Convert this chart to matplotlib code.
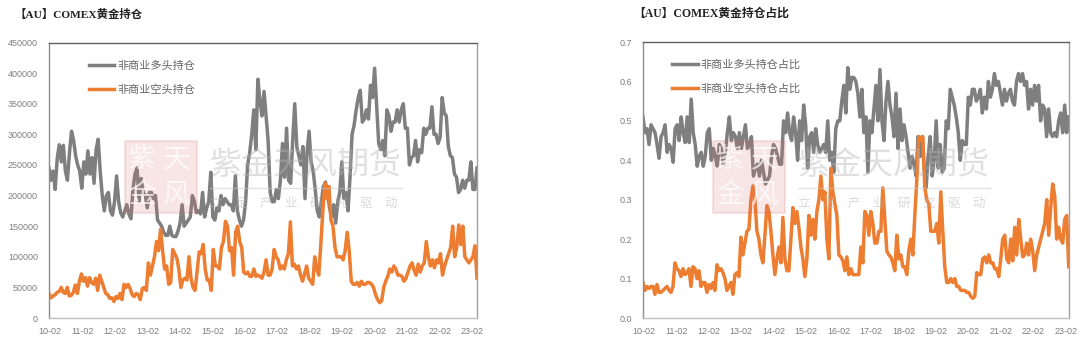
#!/usr/bin/env python3
"""COMEX gold positions: open interest and share of open interest, 2010-2023."""

import numpy as np
import matplotlib
matplotlib.use("Agg")
import matplotlib.pyplot as plt
from matplotlib.patches import Rectangle

plt.rcParams['font.family'] = ['Liberation Sans', 'Noto Sans CJK SC']

W, H = 1080, 353
GRAY = '#7f7f7f'
ORANGE = '#ed7d31'

year_labels = ['10-02', '11-02', '12-02', '13-02', '14-02', '15-02', '16-02',
               '17-02', '18-02', '19-02', '20-02', '21-02', '22-02', '23-02']

# Left chart, thousand contracts, about 16 readings per year
long_oi = [
    245, 225, 240, 210, 260, 283, 255, 282, 240, 225, 270, 305, 290, 265, 250, 240,
    212, 255, 235, 273, 235, 262, 220, 275, 292, 240, 200, 175, 200, 205, 175, 168,
    190, 232, 190, 172, 165, 175, 185, 170, 162, 210, 235, 245, 190, 228, 205, 200,
    180, 205, 205, 195, 200, 160, 155, 150, 140, 135, 135, 150, 135, 133, 133, 142,
    155, 185, 150, 155, 160, 165, 200, 190, 172, 175, 170, 205, 165, 180, 190, 238,
    165, 160, 180, 175, 200, 185, 195, 190, 185, 185, 175, 232, 175, 160, 150, 160,
    190, 250, 270, 300, 340, 275, 390, 355, 330, 370, 330, 290, 205, 190, 190, 210,
    195, 225, 285, 230, 310, 225, 220, 290, 350, 280, 265, 250, 280, 195, 270, 305,
    255, 240, 210, 175, 165, 190, 215, 222, 205, 180, 165, 185, 155, 190, 205, 255,
    195, 205, 175, 230, 300, 315, 340, 360, 372, 320, 325, 340, 325, 380, 360, 408,
    345, 285, 275, 290, 265, 340, 330, 305, 320, 320, 340, 320, 340, 350, 310, 310,
    250, 262, 265, 290, 255, 275, 270, 310, 300, 310, 310, 345, 300, 300, 285, 295,
    360, 335, 330, 280, 265, 262, 235, 230, 205, 210, 225, 212, 225, 225, 255, 210,
    210, 245,
]
short_oi = [
    40, 33, 36, 38, 42, 43, 50, 42, 40, 50, 36, 37, 42, 54, 40, 60,
    72, 60, 66, 52, 66, 58, 55, 65, 45, 70, 60, 50, 40, 38, 32, 33,
    27, 35, 32, 40, 30, 55, 50, 55, 48, 38, 35, 40, 38, 30, 48, 50,
    45, 90, 70, 85, 100, 125, 110, 145, 110, 80, 85, 55, 58, 112, 105, 98,
    80, 50, 62, 65, 62, 100, 65, 50, 45, 75, 108, 105, 120, 80, 62, 62,
    45, 112, 85, 85, 80, 115, 125, 158, 150, 110, 115, 70, 140, 150, 125, 115,
    75, 72, 75, 68, 68, 80, 68, 70, 68, 65, 75, 95, 70, 70, 80, 112,
    100, 95, 80, 85, 80, 95, 105, 157, 85, 88, 80, 85, 70, 60, 72, 85,
    65, 60, 55, 100, 80, 70, 120, 175, 220, 195, 215, 160, 150, 115, 100, 100,
    100, 95, 110, 140, 110, 60, 55, 55, 58, 52, 60, 55, 55, 58, 58, 55,
    50, 38, 30, 25, 28, 50, 60, 68, 80, 75, 85, 80, 70, 70, 68, 60,
    65, 75, 85, 90, 78, 70, 88, 75, 85, 90, 125, 100, 85, 95, 82, 95,
    90, 105, 70, 85, 95, 105, 115, 150, 100, 115, 152, 120, 150, 100, 95, 90,
    95, 100, 118, 65,
]

# Right chart, share of open interest
long_pct = [
    .51, .47, .48, .44, .49, .48, .47, .44, .405, .46, .47, .49, .42, .44, .43, .395,
    .48, .49, .45, .51, .47, .445, .51, .445, .555, .47, .44, .385, .41, .42, .385, .41,
    .47, .48, .40, .43, .41, .385, .44, .43, .39, .42, .47, .51, .45, .47, .46, .43,
    .47, .43, .46, .49, .43, .44, .46, .36, .38, .39, .36, .40, .37, .34, .35, .36,
    .41, .44, .43, .41, .39, .39, .50, .47, .52, .47, .45, .51, .47, .40, .50, .45,
    .54, .49, .38, .46, .47, .42, .48, .44, .42, .43, .44, .42, .50, .40, .42, .37,
    .48, .50, .50, .55, .59, .52, .635, .58, .61, .61, .60, .57, .51, .58, .47, .51,
    .37, .50, .47, .53, .59, .50, .63, .50, .45, .55, .60, .54, .51, .46, .57, .43,
    .53, .45, .49, .46, .42, .38, .41, .39, .36, .46, .41, .46, .38, .33, .41, .46,
    .36, .40, .50, .38, .44, .37, .38, .50, .48, .58, .56, .54, .51, .47, .40, .45,
    .44, .44, .56, .54, .58, .58, .55, .56, .58, .52, .56, .53, .60, .56, .58, .62,
    .59, .60, .57, .54, .58, .55, .57, .58, .55, .54, .60, .62, .60, .62, .59, .60,
    .53, .58, .54, .59, .55, .59, .50, .54, .53, .46, .53, .47, .46, .47, .46, .50,
    .52, .47, .54, .47, .51,
]
short_pct = [
    .09, .07, .08, .075, .08, .08, .06, .085, .065, .065, .07, .075, .08, .07, .065, .08,
    .14, .125, .12, .105, .125, .11, .115, .125, .08, .13, .125, .10, .12, .08, .09, .09,
    .065, .085, .075, .09, .07, .135, .12, .125, .115, .10, .07, .08, .09, .06, .11, .115,
    .105, .205, .16, .19, .22, .225, .30, .335, .30, .22, .20, .16, .14, .21, .285, .27,
    .22, .16, .11, .15, .18, .14, .255, .15, .12, .12, .20, .28, .24, .27, .23, .18,
    .15, .105, .15, .26, .21, .25, .20, .27, .30, .36, .30, .32, .20, .15, .38, .32,
    .29, .26, .16, .155, .145, .12, .155, .11, .125, .11, .11, .11, .11, .18, .14, .27,
    .26, .21, .27, .24, .19, .19, .22, .22, .33, .25, .17, .16, .155, .14, .12, .21,
    .15, .16, .13, .13, .11, .17, .20, .16, .26, .35, .46, .45, .46, .33, .30, .29,
    .22, .22, .22, .24, .19, .32, .22, .13, .09, .09, .10, .09, .10, .08, .08, .07,
    .07, .07, .065, .065, .055, .05, .055, .115, .11, .11, .15, .155, .14, .16, .14, .14,
    .125, .125, .105, .15, .20, .21, .15, .14, .20, .145, .23, .16, .25, .20, .155, .16,
    .19, .16, .20, .17, .12, .16, .18, .20, .22, .24, .30, .21, .28, .34, .31, .20,
    .23, .20, .19, .25, .26, .13,
]


def add_axes_px(fig, left, top, right, bottom):
    return fig.add_axes([left / W, 1 - bottom / H, (right - left) / W, (bottom - top) / H])


def draw_panel(fig, box, title, title_x, title_size, long_vals, short_vals, long_label,
               short_label, ymax, ystep, yfmt, legend_x, span):
    ax = add_axes_px(fig, *box)
    for vals, color, label in [(long_vals, GRAY, long_label), (short_vals, ORANGE, short_label)]:
        x = np.linspace(0, span, len(vals))
        ax.plot(x, vals, color=color, lw=2.5, label=label, solid_joinstyle='round')

    ax.set_xlim(0, span)
    ax.set_ylim(0, ymax)
    ax.set_xticks(np.arange(len(year_labels)) + 0.03)
    ax.set_xticklabels(year_labels)
    ax.set_yticks(np.arange(0, ymax + ystep / 2, ystep))
    ax.yaxis.set_major_formatter(plt.FuncFormatter(lambda v, _: yfmt.format(v)))
    ax.tick_params(length=0, labelsize=6.5, labelcolor=GRAY)
    ax.tick_params(axis='y', pad=8)
    ax.tick_params(axis='x', pad=6.5)

    for side, color in [('left', '#8c8c8c'), ('bottom', '#bfbfbf'), ('top', '#606060'), ('right', '#a0a0a0')]:
        ax.spines[side].set_color(color)
        ax.spines[side].set_linewidth(1.0)

    ax.legend(loc='upper left', bbox_to_anchor=(legend_x, 0.936), frameon=False, fontsize=8,
              labelcolor='#666666', handlelength=2.3, handletextpad=0.3, labelspacing=1.22,
              borderpad=0, borderaxespad=0)

    fig.text(title_x / W, 1 - 14 / H, title, fontsize=title_size, fontweight='bold', color='#222222',
             va='center', family=['Liberation Serif', 'Noto Sans CJK SC'])
    return ax


def draw_watermark(fig, x0):
    # stamp with the company name, then the grey name and slogan beside it
    red = '#d9686a'
    fig.add_artist(Rectangle((x0 / W, 1 - 213 / H), 72 / W, 72 / H, transform=fig.transFigure,
                             facecolor=red, edgecolor=red, alpha=0.17, lw=1.5, zorder=5))
    for dx, dy, ch in [(17, 18, '紫'), (52, 18, '天'), (17, 54, '金'), (52, 54, '风')]:
        fig.text((x0 + dx) / W, 1 - (141 + dy) / H, ch, fontsize=20, color='white', alpha=0.7,
                 ha='center', va='center', zorder=6, family=['Noto Sans CJK SC'])
    fig.text((x0 + 85) / W, 1 - 165 / H, '紫金天风期货', fontsize=23, color='#b5b5b5', alpha=0.42,
             va='center', zorder=6, family=['Noto Sans CJK SC'])
    fig.add_artist(plt.Line2D([(x0 + 85) / W, (x0 + 277) / W], [1 - 188 / H] * 2, color='#c8c8c8',
                              alpha=0.5, lw=1, zorder=6))
    fig.text((x0 + 179) / W, 1 - 203 / H, '立\u3000足\u3000产\u3000业\u3000研\u3000究\u3000驱\u3000动',
             fontsize=9, color='#b5b5b5', alpha=0.5, ha='center', va='center', zorder=6,
             family=['Noto Sans CJK SC'])


def main():
    fig = plt.figure(figsize=(W / 100, H / 100), dpi=100, facecolor='white')

    draw_panel(fig, (49, 42.5, 477, 318), '【AU】COMEX黄金持仓', 14, 8.2,
               np.array(long_oi) * 1000, np.array(short_oi) * 1000,
               '非商业多头持仓', '非商业空头持仓', 450000, 50000, '{:.0f}', 0.093, 13.18)
    draw_panel(fig, (643, 42, 1068.7, 318), '【AU】COMEX黄金持仓占比', 633, 8.5,
               long_pct, short_pct,
               '非商业多头持仓占比', '非商业空头持仓占比', 0.7, 0.1, '{:.1f}', 0.068, 13.12)

    draw_watermark(fig, 125)
    draw_watermark(fig, 713)

    fig.savefig('out.png', dpi=100)


if __name__ == "__main__":
    main()
